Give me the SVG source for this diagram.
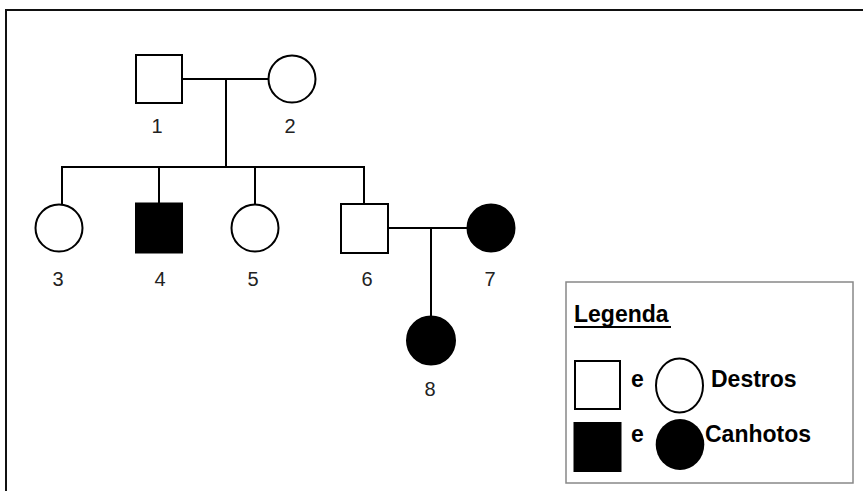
<svg xmlns="http://www.w3.org/2000/svg" width="863" height="491" viewBox="0 0 863 491">
<style>
.sym{fill:#fff;stroke:#000;stroke-width:2}
.aff{fill:#000;stroke:#000;stroke-width:2}
.ln{fill:none;stroke:#000;stroke-width:2}
.num{font-family:"Liberation Sans",Arial,sans-serif;font-size:20px;fill:#222;text-anchor:middle}
.leg{font-family:"Liberation Sans",Arial,sans-serif;font-size:23px;font-weight:bold;fill:#000}
</style>
<rect x="0" y="0" width="863" height="491" fill="#fff"/>
<path d="M6,500 V10 H870" fill="none" stroke="#111" stroke-width="2"/>
<g id="connectors">
<path class="ln" d="M182,79 H269"/>
<path class="ln" d="M226,79 V167"/>
<path class="ln" d="M62,167 H364"/>
<path class="ln" d="M62,166 V204"/>
<path class="ln" d="M159,166 V203"/>
<path class="ln" d="M255,166 V204"/>
<path class="ln" d="M364,166 V204"/>
<path class="ln" d="M388,228 H468"/>
<path class="ln" d="M431,228 V316"/>
</g>
<g id="n1"><rect class="sym" x="136" y="55" width="46" height="48"/><text class="num" x="157" y="132.5">1</text></g>
<g id="n2"><circle class="sym" cx="292" cy="79" r="23.5"/><text class="num" x="290" y="132.5">2</text></g>
<g id="n3"><circle class="sym" cx="59" cy="228" r="23.5"/><text class="num" x="58" y="286">3</text></g>
<g id="n4"><rect class="aff" x="136" y="203.5" width="46" height="49"/><text class="num" x="160" y="286">4</text></g>
<g id="n5"><circle class="sym" cx="255" cy="228" r="23.5"/><text class="num" x="253" y="286">5</text></g>
<g id="n6"><rect class="sym" x="341" y="204" width="47" height="49"/><text class="num" x="367" y="286">6</text></g>
<g id="n7"><circle class="aff" cx="491" cy="228" r="23.5"/><text class="num" x="490" y="286">7</text></g>
<g id="n8"><circle class="aff" cx="431" cy="340.5" r="24"/><text class="num" x="430" y="396">8</text></g>
<g id="legend">
<rect x="566" y="282" width="287" height="201" fill="#fff" stroke="#888" stroke-width="1.5"/>
<text class="leg" x="574" y="321.5">Legenda</text>
<line x1="574" y1="327" x2="671" y2="327" stroke="#000" stroke-width="2"/>
<rect class="sym" x="575" y="361" width="45" height="48"/>
<text class="leg" x="631" y="387">e</text>
<ellipse class="sym" cx="679.5" cy="385.5" rx="23.5" ry="27"/>
<text class="leg" x="711" y="387">Destros</text>
<rect x="573.5" y="422" width="48" height="50" fill="#000"/>
<text class="leg" x="631" y="442">e</text>
<ellipse cx="680" cy="444.5" rx="24.3" ry="25.5" fill="#000"/>
<text class="leg" x="705" y="442">Canhotos</text>
</g>
</svg>
